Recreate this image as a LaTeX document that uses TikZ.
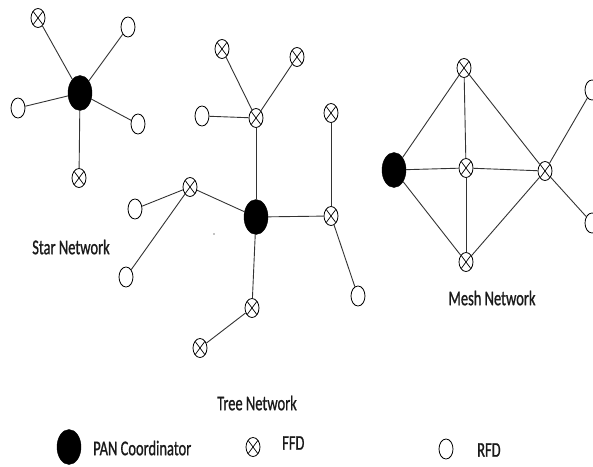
\documentclass[tikz,border=0pt]{standalone}
\usepackage{fontspec}
\setmainfont{Carlito}
\newfontfamily\lblfont{Carlito}[FakeBold=1.2]
\usetikzlibrary{shapes.geometric}
\definecolor{edgec}{HTML}{333333}
\definecolor{textc}{HTML}{1A1A1A}
\newcommand{\lbl}[1]{\scalebox{0.69}[1]{\lblfont\fontsize{21}{23}\selectfont #1}}
\tikzset{
  pan/.style={ellipse, fill=black, draw=black, minimum width=24pt, minimum height=35pt, inner sep=0pt},
  ffd/.style={ellipse, draw=black, fill=white, line width=0.8pt, minimum width=14pt, minimum height=19pt, inner sep=0pt,
    path picture={\draw[line width=0.7pt] (path picture bounding box.north west) -- (path picture bounding box.south east)
      (path picture bounding box.north east) -- (path picture bounding box.south west);}},
  rfd/.style={ellipse, draw=black, fill=white, line width=0.8pt, minimum width=14pt, minimum height=20pt, inner sep=0pt},
  link/.style={draw=edgec, line width=0.9pt},
  txt/.style={text=textc, inner sep=0pt}
}
\begin{document}
\begin{tikzpicture}[x=1pt,y=-1pt]
\useasboundingbox (0,0) rectangle (593,466);
% Star network
\node[pan] (sP) at (80,93) {};
\node[ffd] (sF1) at (38,18) {};
\node[rfd] (sR1) at (128,27) {};
\node[rfd] (sR2) at (18,108) {};
\node[rfd] (sR3) at (138,124) {};
\node[ffd] (sF2) at (79,178) {};
\foreach \n in {sF1,sR1,sR2,sR3,sF2} \draw[link] (sP) -- (\n);
\node[txt] (sLab) at (71,247) {\lbl{Star Network}};
% Tree network
\node[pan] (tP) at (256,217) {};
\node[ffd] (tF1) at (222,49) {};
\node[ffd] (tF2) at (297,57) {};
\node[rfd] (tR1) at (202,116) {};
\node[ffd] (tH1) at (256,118) {};
\node[ffd] (tF3) at (331,113) {};
\node[ffd] (tH2) at (190,187) {};
\node[rfd] (tR2) at (135,209) {};
\node[rfd] (tR3) at (126,277) {};
\node[ffd] (tH3) at (331,216) {};
\node[rfd] (tR4) at (358,296) {};
\node[ffd] (tH4) at (252,308) {};
\node[ffd] (tF4) at (200,348) {};
\draw[link] (tP) -- (tH1);
\draw[link] (tP) -- (tH2);
\draw[link] (tP) -- (tH3);
\draw[link] (tP) -- (tH4);
\draw[link] (tH1) -- (tF1);
\draw[link] (tH1) -- (tF2);
\draw[link] (tH1) -- (tR1);
\draw[link] (tH3) -- (tF3);
\draw[link] (tH3) -- (tR4);
\draw[link] (tH2) -- (tR2);
\draw[link] (tH2) -- (tR3);
\draw[link] (tH4) -- (tF4);
\node[circle, fill=black, minimum size=1.2pt, inner sep=0pt] (dot) at (214,234) {};
\node[txt] (tLab) at (257,403) {\lbl{Tree Network}};
% Mesh network
\node[pan] (mP) at (394,170) {};
\node[ffd] (mT) at (464,68) {};
\node[ffd] (mC) at (466,168) {};
\node[ffd] (mR) at (545,171) {};
\node[ffd] (mB) at (466,262) {};
\node[rfd] (mR1) at (592,90) {};
\node[rfd] (mR2) at (592,223) {};
\draw[link] (mP) -- (mT);
\draw[link] (mP) -- (mC);
\draw[link] (mP) -- (mB);
\draw[link] (mT) -- (mC);
\draw[link] (mC) -- (mB);
\draw[link] (mT) -- (mR);
\draw[link] (mC) -- (mR);
\draw[link] (mB) -- (mR);
\draw[link] (mR) -- (mR1);
\draw[link] (mR) -- (mR2);
\node[txt] (mLab) at (492,298) {\lbl{Mesh Network}};
% Legend
\node[pan] (lP) at (69,447) {};
\node[txt, anchor=west] (lPt) at (93,448) {\lbl{PAN Coordinator}};
\node[ffd] (lF) at (253,447) {};
\node[txt, anchor=west] (lFt) at (282,443) {\lbl{FFD}};
\node[rfd] (lR) at (446,449) {};
\node[txt, anchor=west] (lRt) at (477,450) {\lbl{RFD}};
\end{tikzpicture}
\end{document}
